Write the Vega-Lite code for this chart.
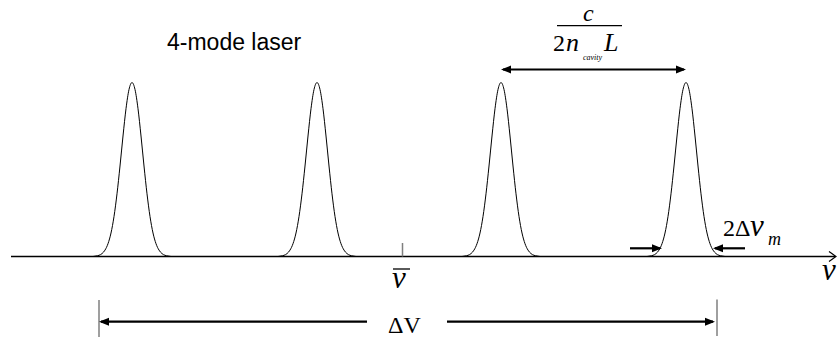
{
  "$schema": "https://vega.github.io/schema/vega-lite/v6.json",
  "width": 837,
  "height": 341,
  "autosize": {"type": "none"},
  "padding": 0,
  "background": "white",
  "config": {"view": {"stroke": null}},
  "datasets": {
    "modes": [
      {"mode": 1, "f": 93, "I": 0}, {"mode": 1, "f": 96, "I": 0.5}, {"mode": 1, "f": 99, "I": 1.2}, {"mode": 1, "f": 102, "I": 2.9},
      {"mode": 1, "f": 105, "I": 6.4}, {"mode": 1, "f": 108, "I": 12.8}, {"mode": 1, "f": 111, "I": 23.5}, {"mode": 1, "f": 114, "I": 40.0},
      {"mode": 1, "f": 117, "I": 62.7}, {"mode": 1, "f": 120, "I": 90.5}, {"mode": 1, "f": 123, "I": 120.5}, {"mode": 1, "f": 126, "I": 147.8},
      {"mode": 1, "f": 129, "I": 167}, {"mode": 1, "f": 132, "I": 174}, {"mode": 1, "f": 135, "I": 167}, {"mode": 1, "f": 138, "I": 147.8},
      {"mode": 1, "f": 141, "I": 120.5}, {"mode": 1, "f": 144, "I": 90.5}, {"mode": 1, "f": 147, "I": 62.7}, {"mode": 1, "f": 150, "I": 40.0},
      {"mode": 1, "f": 153, "I": 23.5}, {"mode": 1, "f": 156, "I": 12.8}, {"mode": 1, "f": 159, "I": 6.4}, {"mode": 1, "f": 162, "I": 2.9},
      {"mode": 1, "f": 165, "I": 1.2}, {"mode": 1, "f": 168, "I": 0.5}, {"mode": 1, "f": 171, "I": 0},

      {"mode": 2, "f": 278, "I": 0}, {"mode": 2, "f": 281, "I": 0.5}, {"mode": 2, "f": 284, "I": 1.2}, {"mode": 2, "f": 287, "I": 2.9},
      {"mode": 2, "f": 290, "I": 6.4}, {"mode": 2, "f": 293, "I": 12.8}, {"mode": 2, "f": 296, "I": 23.5}, {"mode": 2, "f": 299, "I": 40.0},
      {"mode": 2, "f": 302, "I": 62.7}, {"mode": 2, "f": 305, "I": 90.5}, {"mode": 2, "f": 308, "I": 120.5}, {"mode": 2, "f": 311, "I": 147.8},
      {"mode": 2, "f": 314, "I": 167}, {"mode": 2, "f": 317, "I": 174}, {"mode": 2, "f": 320, "I": 167}, {"mode": 2, "f": 323, "I": 147.8},
      {"mode": 2, "f": 326, "I": 120.5}, {"mode": 2, "f": 329, "I": 90.5}, {"mode": 2, "f": 332, "I": 62.7}, {"mode": 2, "f": 335, "I": 40.0},
      {"mode": 2, "f": 338, "I": 23.5}, {"mode": 2, "f": 341, "I": 12.8}, {"mode": 2, "f": 344, "I": 6.4}, {"mode": 2, "f": 347, "I": 2.9},
      {"mode": 2, "f": 350, "I": 1.2}, {"mode": 2, "f": 353, "I": 0.5}, {"mode": 2, "f": 356, "I": 0},

      {"mode": 3, "f": 462, "I": 0}, {"mode": 3, "f": 465, "I": 0.5}, {"mode": 3, "f": 468, "I": 1.2}, {"mode": 3, "f": 471, "I": 2.9},
      {"mode": 3, "f": 474, "I": 6.4}, {"mode": 3, "f": 477, "I": 12.8}, {"mode": 3, "f": 480, "I": 23.5}, {"mode": 3, "f": 483, "I": 40.0},
      {"mode": 3, "f": 486, "I": 62.7}, {"mode": 3, "f": 489, "I": 90.5}, {"mode": 3, "f": 492, "I": 120.5}, {"mode": 3, "f": 495, "I": 147.8},
      {"mode": 3, "f": 498, "I": 167}, {"mode": 3, "f": 501, "I": 174}, {"mode": 3, "f": 504, "I": 167}, {"mode": 3, "f": 507, "I": 147.8},
      {"mode": 3, "f": 510, "I": 120.5}, {"mode": 3, "f": 513, "I": 90.5}, {"mode": 3, "f": 516, "I": 62.7}, {"mode": 3, "f": 519, "I": 40.0},
      {"mode": 3, "f": 522, "I": 23.5}, {"mode": 3, "f": 525, "I": 12.8}, {"mode": 3, "f": 528, "I": 6.4}, {"mode": 3, "f": 531, "I": 2.9},
      {"mode": 3, "f": 534, "I": 1.2}, {"mode": 3, "f": 537, "I": 0.5}, {"mode": 3, "f": 540, "I": 0},

      {"mode": 4, "f": 647, "I": 0}, {"mode": 4, "f": 650, "I": 0.5}, {"mode": 4, "f": 653, "I": 1.2}, {"mode": 4, "f": 656, "I": 2.9},
      {"mode": 4, "f": 659, "I": 6.4}, {"mode": 4, "f": 662, "I": 12.8}, {"mode": 4, "f": 665, "I": 23.5}, {"mode": 4, "f": 668, "I": 40.0},
      {"mode": 4, "f": 671, "I": 62.7}, {"mode": 4, "f": 674, "I": 90.5}, {"mode": 4, "f": 677, "I": 120.5}, {"mode": 4, "f": 680, "I": 147.8},
      {"mode": 4, "f": 683, "I": 167}, {"mode": 4, "f": 686, "I": 174}, {"mode": 4, "f": 689, "I": 167}, {"mode": 4, "f": 692, "I": 147.8},
      {"mode": 4, "f": 695, "I": 120.5}, {"mode": 4, "f": 698, "I": 90.5}, {"mode": 4, "f": 701, "I": 62.7}, {"mode": 4, "f": 704, "I": 40.0},
      {"mode": 4, "f": 707, "I": 23.5}, {"mode": 4, "f": 710, "I": 12.8}, {"mode": 4, "f": 713, "I": 6.4}, {"mode": 4, "f": 716, "I": 2.9},
      {"mode": 4, "f": 719, "I": 1.2}, {"mode": 4, "f": 722, "I": 0.5}, {"mode": 4, "f": 725, "I": 0}
    ],
    "segments": [
      {"kind": "axis", "f": 11, "f2": 835, "I": 0, "I2": 0},
      {"kind": "dim", "f": 503, "f2": 684, "I": 187, "I2": 187},
      {"kind": "dim", "f": 101, "f2": 367, "I": -65.2, "I2": -65.2},
      {"kind": "dim", "f": 447, "f2": 713, "I": -65.2, "I2": -65.2},
      {"kind": "dim", "f": 630, "f2": 660, "I": 8.2, "I2": 8.2},
      {"kind": "dim", "f": 715, "f2": 745, "I": 8.2, "I2": 8.2},
      {"kind": "tick", "f": 402.5, "f2": 402.5, "I": 0, "I2": 13.5},
      {"kind": "tick", "f": 99, "f2": 99, "I": -43.5, "I2": -80.5},
      {"kind": "tick", "f": 717, "f2": 717, "I": -43, "I2": -79.5},
      {"kind": "bar", "f": 393, "f2": 410, "I": -12.5, "I2": -12.5},
      {"kind": "bar", "f": 557, "f2": 622, "I": 230.8, "I2": 230.8}
    ],
    "heads": [
      {"dir": "left", "f": 501, "I": 187},
      {"dir": "right", "f": 686, "I": 187},
      {"dir": "left", "f": 99, "I": -65.2},
      {"dir": "right", "f": 715, "I": -65.2},
      {"dir": "right", "f": 662, "I": 8.2},
      {"dir": "left", "f": 713, "I": 8.2},
      {"dir": "open", "f": 836, "I": 0}
    ],
    "labels": [
      {"role": "sans", "text": "4-mode laser", "f": 167, "I": 207},
      {"role": "numer", "text": "c", "f": 583, "I": 235.5},
      {"role": "upright", "text": "2", "f": 553, "I": 205.8},
      {"role": "italic", "text": "n", "f": 566, "I": 205.8},
      {"role": "tiny", "text": "cavity", "f": 583, "I": 196.5},
      {"role": "italic", "text": "L", "f": 604, "I": 205.8},
      {"role": "nu", "text": "ν", "f": 392, "I": -31.5},
      {"role": "nu", "text": "ν", "f": 822, "I": -23.5},
      {"role": "upright", "text": "ΔV", "f": 388, "I": -76.5},
      {"role": "upright", "text": "2Δ", "f": 723, "I": 20.8},
      {"role": "nu", "text": "ν", "f": 750, "I": 20.5},
      {"role": "sub", "text": "m", "f": 768, "I": 11.5}
    ]
  },
  "encoding": {
    "x": {"field": "f", "type": "quantitative", "axis": null,
          "scale": {"domain": [0, 837], "nice": false, "zero": false}},
    "y": {"field": "I", "type": "quantitative", "axis": null,
          "scale": {"domain": [-84.5, 256.5], "nice": false, "zero": false}}
  },
  "layer": [
    {
      "data": {"name": "modes"},
      "mark": {"type": "line", "color": "black", "strokeWidth": 1, "interpolate": "monotone"},
      "encoding": {"detail": {"field": "mode", "type": "nominal"}}
    },
    {
      "data": {"name": "segments"},
      "transform": [{"filter": "datum.kind === 'axis'"}],
      "mark": {"type": "rule", "color": "black", "strokeWidth": 1.6},
      "encoding": {"x2": {"field": "f2"}, "y2": {"field": "I2"}}
    },
    {
      "data": {"name": "segments"},
      "transform": [{"filter": "datum.kind === 'dim'"}],
      "mark": {"type": "rule", "color": "black", "strokeWidth": 2.2},
      "encoding": {"x2": {"field": "f2"}, "y2": {"field": "I2"}}
    },
    {
      "data": {"name": "segments"},
      "transform": [{"filter": "datum.kind === 'tick'"}],
      "mark": {"type": "rule", "color": "#7f7f7f", "strokeWidth": 1.5},
      "encoding": {"x2": {"field": "f2"}, "y2": {"field": "I2"}}
    },
    {
      "data": {"name": "segments"},
      "transform": [{"filter": "datum.kind === 'bar'"}],
      "mark": {"type": "rule", "color": "black", "strokeWidth": 1.3},
      "encoding": {"x2": {"field": "f2"}, "y2": {"field": "I2"}}
    },
    {
      "data": {"name": "heads"},
      "transform": [{"filter": "datum.dir === 'right'"}],
      "mark": {"type": "point", "shape": "M0,0L-10,-4L-10,4Z", "size": 4, "filled": true, "color": "black", "opacity": 1, "strokeWidth": 0}
    },
    {
      "data": {"name": "heads"},
      "transform": [{"filter": "datum.dir === 'left'"}],
      "mark": {"type": "point", "shape": "M0,0L10,-4L10,4Z", "size": 4, "filled": true, "color": "black", "opacity": 1, "strokeWidth": 0}
    },
    {
      "data": {"name": "heads"},
      "transform": [{"filter": "datum.dir === 'open'"}],
      "mark": {"type": "point", "shape": "M-7,-5L0,0L-7,5", "size": 4, "filled": false, "color": "black", "opacity": 1, "strokeWidth": 1.2}
    },
    {
      "data": {"name": "labels"},
      "transform": [{"filter": "datum.role === 'sans'"}],
      "mark": {"type": "text", "align": "left", "baseline": "alphabetic", "font": "Liberation Sans", "fontSize": 23, "color": "black"},
      "encoding": {"text": {"field": "text"}}
    },
    {
      "data": {"name": "labels"},
      "transform": [{"filter": "datum.role === 'upright'"}],
      "mark": {"type": "text", "align": "left", "baseline": "alphabetic", "font": "Liberation Serif", "fontSize": 24, "color": "black"},
      "encoding": {"text": {"field": "text"}}
    },
    {
      "data": {"name": "labels"},
      "transform": [{"filter": "datum.role === 'italic'"}],
      "mark": {"type": "text", "align": "left", "baseline": "alphabetic", "font": "Liberation Serif", "fontStyle": "italic", "fontSize": 26, "color": "black"},
      "encoding": {"text": {"field": "text"}}
    },
    {
      "data": {"name": "labels"},
      "transform": [{"filter": "datum.role === 'numer'"}],
      "mark": {"type": "text", "align": "left", "baseline": "alphabetic", "font": "Liberation Serif", "fontStyle": "italic", "fontSize": 24, "color": "black"},
      "encoding": {"text": {"field": "text"}}
    },
    {
      "data": {"name": "labels"},
      "transform": [{"filter": "datum.role === 'nu'"}],
      "mark": {"type": "text", "align": "left", "baseline": "alphabetic", "font": "Liberation Serif", "fontStyle": "italic", "fontSize": 31, "color": "black"},
      "encoding": {"text": {"field": "text"}}
    },
    {
      "data": {"name": "labels"},
      "transform": [{"filter": "datum.role === 'sub'"}],
      "mark": {"type": "text", "align": "left", "baseline": "alphabetic", "font": "Liberation Serif", "fontStyle": "italic", "fontSize": 18, "color": "black"},
      "encoding": {"text": {"field": "text"}}
    },
    {
      "data": {"name": "labels"},
      "transform": [{"filter": "datum.role === 'tiny'"}],
      "mark": {"type": "text", "align": "left", "baseline": "alphabetic", "font": "Liberation Serif", "fontStyle": "italic", "fontSize": 8, "color": "black"},
      "encoding": {"text": {"field": "text"}}
    }
  ]
}
